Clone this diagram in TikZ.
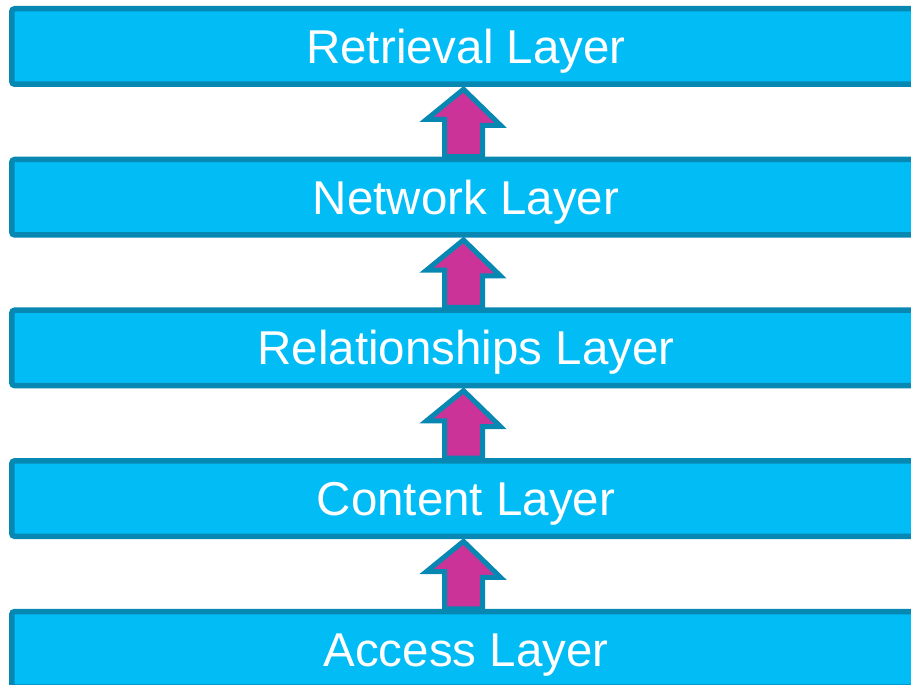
\documentclass[tikz,border=0pt]{standalone}
\usepackage{fontspec}
\setmainfont{Liberation Sans}
\usetikzlibrary{calc}
\definecolor{layerfill}{HTML}{02BCF6}
\definecolor{layeredge}{HTML}{0788B2}
\definecolor{arrowfill}{HTML}{CC3399}
\tikzset{
  layerbox/.style={draw=layeredge, fill=layerfill, line width=5.5pt,
    rounded corners=3pt, minimum width=908.5pt, minimum height=75.5pt,
    inner sep=0pt, text=white, font=\fontsize{47.5}{56}\selectfont,
    text height=34pt, text depth=0pt},
  uparrow/.style={draw=layeredge, fill=arrowfill, line width=5pt, line join=miter}
}
\begin{document}
\begin{tikzpicture}[x=1pt, y=-1pt]
  \useasboundingbox (0,0) rectangle (911,685);
  \clip (0,0) rectangle (911,685);
  \node[layerbox] (retrieval) at (466,46.5)  {Retrieval Layer};
  \node[layerbox] (network)   at (466,197.2) {Network Layer};
  \node[layerbox] (relation)  at (466,347.9) {Relationships Layer};
  \node[layerbox] (content)   at (466,498.6) {Content Layer};
  \node[layerbox] (access)    at (466,649.3) {Access Layer};
  \foreach \up/\lo in {retrieval/network, network/relation, relation/content, content/access}{
    \draw[uparrow] ($(\up.south)+(-2.5,2.25)$) -- ++(37,36) -- ++(-18,0)
      -- ($(\lo.north)+(16.5,0)$) -- ($(\lo.north)+(-21.5,0)$)
      -- ++(0,-37.25) -- ++(-18,0) -- cycle;
  }
\end{tikzpicture}
\end{document}
